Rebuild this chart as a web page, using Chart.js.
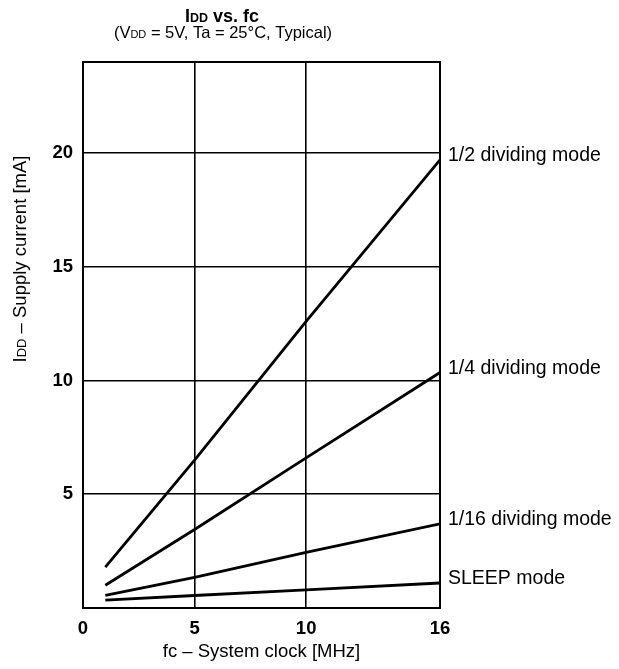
<!DOCTYPE html>
<html>
<head>
<meta charset="utf-8">
<script src="https://cdn.jsdelivr.net/npm/chart.js@4.4.0/dist/chart.umd.min.js"></script>
<style>
  body { margin: 0; background: #fff; }
  canvas { display: block; }
</style>
</head>
<body>
<canvas id="chart" width="619" height="669"></canvas>
<script>
// values (IDD vs fc)
const clockMHz = [1, 5, 10, 16];
const halfMode = [1.8, 6.5, 12.6, 19.7];
const quarterMode = [1.0, 3.45, 6.6, 10.35];
const sixteenthMode = [0.55, 1.35, 2.45, 3.7];
const sleepMode = [0.35, 0.55, 0.8, 1.1];
const seriesNames = ['1/2 dividing mode', '1/4 dividing mode', '1/16 dividing mode', 'SLEEP mode'];
const xTicks = [0, 5, 10, 16];
const yTicks = [5, 10, 15, 20];

const FONT = '"Liberation Sans", Arial, sans-serif';

function toPoints(ys) {
    return clockMHz.map((x, i) => ({ x: x, y: ys[i] }));
}

// draws text made of pieces with different sizes (for the small caps "DD")
function drawMixed(ctx, parts, cx, y) {
    let total = 0;
    parts.forEach(p => {
        ctx.font = (p.bold ? 'bold ' : '') + p.size + 'px ' + FONT;
        p.w = ctx.measureText(p.t).width;
        total += p.w;
    });
    let x = cx - total / 2;
    ctx.textAlign = 'left';
    ctx.textBaseline = 'alphabetic';
    parts.forEach(p => {
        ctx.font = (p.bold ? 'bold ' : '') + p.size + 'px ' + FONT;
        ctx.fillText(p.t, x, y);
        x += p.w;
    });
}

const decorations = {
    id: 'decorations',
    afterDraw(chart) {
        const ctx = chart.ctx;
        const area = chart.chartArea;
        const ys = chart.scales.y;
        ctx.save();
        ctx.fillStyle = '#000';
        ctx.strokeStyle = '#000';

        // frame
        ctx.lineWidth = 2;
        ctx.strokeRect(area.left, area.top, area.right - area.left, area.bottom - area.top);

        // title
        drawMixed(ctx, [
            { t: 'I', size: 18, bold: true },
            { t: 'DD', size: 12.5, bold: true },
            { t: ' vs. fc', size: 18, bold: true }
        ], 222, 22);
        drawMixed(ctx, [
            { t: '(V', size: 16.5 },
            { t: 'DD', size: 11 },
            { t: ' = 5V, Ta = 25°C, Typical)', size: 16.5 }
        ], 223, 38);

        // x axis title
        drawMixed(ctx, [{ t: 'fc – System clock [MHz]', size: 18.5 }], (area.left + area.right) / 2, 657);

        // y axis title
        ctx.save();
        ctx.translate(26, 259);
        ctx.rotate(-Math.PI / 2);
        drawMixed(ctx, [
            { t: 'I', size: 18.5 },
            { t: 'DD', size: 13 },
            { t: ' – Supply current [mA]', size: 18.5 }
        ], 0, 0);
        ctx.restore();

        // curve labels at the right end of each line
        ctx.font = '19.5px ' + FONT;
        ctx.textAlign = 'left';
        ctx.textBaseline = 'middle';
        chart.data.datasets.forEach((ds, i) => {
            const last = ds.data[ds.data.length - 1];
            ctx.fillText(seriesNames[i], area.right + 8, ys.getPixelForValue(last.y) - 4);
        });
        ctx.restore();
    }
};

const seriesValues = [halfMode, quarterMode, sixteenthMode, sleepMode];

new Chart(document.getElementById('chart'), {
    type: 'line',
    data: {
        datasets: seriesValues.map((vals, i) => ({
            label: seriesNames[i],
            data: toPoints(vals),
            borderColor: '#000',
            borderWidth: 2.8,
            pointRadius: 0,
            tension: 0
        }))
    },
    options: {
        responsive: false,
        animation: false,
        layout: { padding: { left: 0, top: 62, right: 179, bottom: 0 } },
        plugins: {
            legend: { display: false },
            tooltip: { enabled: false }
        },
        scales: {
            x: {
                type: 'linear',
                min: 0,
                max: 16,
                afterBuildTicks: scale => { scale.ticks = xTicks.map(v => ({ value: v })); },
                afterFit: scale => { scale.height = 61; },
                border: { display: false },
                grid: { color: '#000', lineWidth: 1.6, drawTicks: false },
                ticks: {
                    color: '#000',
                    padding: 10,
                    maxRotation: 0,
                    autoSkip: false,
                    font: { family: FONT, size: 18.5, weight: 'bold' }
                }
            },
            y: {
                type: 'linear',
                min: 0,
                max: 24,
                afterBuildTicks: scale => { scale.ticks = yTicks.map(v => ({ value: v })); },
                afterFit: scale => { scale.width = 83; },
                border: { display: false },
                grid: { color: '#000', lineWidth: 1.6, drawTicks: false },
                ticks: {
                    color: '#000',
                    padding: 10,
                    autoSkip: false,
                    font: { family: FONT, size: 18.5, weight: 'bold' }
                }
            }
        }
    },
    plugins: [decorations]
});
</script>
</body>
</html>
